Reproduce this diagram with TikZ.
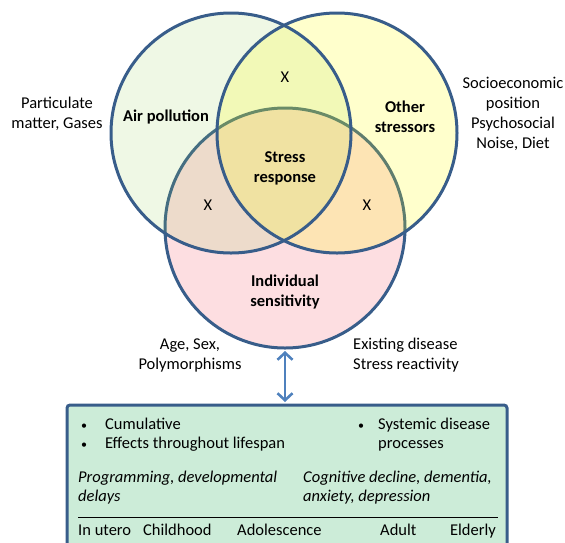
\documentclass[tikz,border=0pt]{standalone}
\usepackage{fontspec}
\setmainfont{Carlito}
\usepackage{xcolor}
\definecolor{Col1}{RGB}{56,93,138}
\definecolor{Col2}{RGB}{146,208,80}
\definecolor{Col3}{RGB}{255,255,0}
\definecolor{Col4}{RGB}{253,222,225}
\definecolor{Col5}{RGB}{79,129,189}
\definecolor{Col6}{RGB}{204,236,216}
\usepackage{tikz}
\usetikzlibrary{arrows.meta}
\tikzstyle{Set}=[draw=Col1,line width=3pt]
\tikzstyle{Label}=[font=\fontsize{16.5}{20}\selectfont,align=center,inner sep=0pt]
\tikzstyle{LabelB}=[Label,font=\fontsize{16.5}{20}\selectfont\bfseries]
\tikzstyle{Row}=[Label,anchor=base west]
\tikzstyle{Dot}=[Label,anchor=base west,font=\fontsize{12}{20}\selectfont]
\tikzstyle{Edge}=[draw=Col5,line width=2.6pt,
{Straight Barb[length=7pt,width=15pt]}-{Straight Barb[length=7pt,width=15pt]}]
\tikzstyle{Box}=[draw=Col1,fill=Col6,line width=3pt,rounded corners=3pt]

\begin{document}
\begin{tikzpicture}[x=1pt,y=-1pt]
        \useasboundingbox (0,0) rectangle (565,542);
        \coordinate(A)at(231,133);
        \coordinate(O)at(337,133);
        \coordinate(I)at(285,228);
        % the three sets
        \fill[Col4](I)circle(120pt);
        \draw[Set](I)circle(120pt);
        \fill[Col2,opacity=.15](A)circle(120pt);
        \fill[Col3,opacity=.2](O)circle(120pt);
        \draw[Set](A)circle(120pt);
        \draw[Set](O)circle(120pt);
        \node[LabelB](ap)at(166,117){Air pollution};
        \node[LabelB](os)at(405,117){Other\\stressors};
        \node[LabelB](sr)at(285,168){Stress\\response};
        \node[LabelB](is)at(285,292){Individual\\sensitivity};
        \node[Label](x1)at(285,77){X};
        \node[Label](x2)at(208,205){X};
        \node[Label](x3)at(367,205){X};
        \node[Label](pm)at(57,114){Particulate\\matter, Gases};
        \node[Label](se)at(513,114){Socioeconomic\\position\\Psychosocial\\Noise, Diet};
        \node[Label](as)at(190,355){Age, Sex,\\Polymorphisms};
        \node[Label,align=left,anchor=west](ed)at(353,355){Existing disease\\Stress reactivity};
        % box and arrow
        \draw[Box](67,405)rectangle(507,575);
        \coordinate(t)at(285,351);
        \coordinate(b)at(285,402);
        \draw[Edge](t)--(b);
        \node[Dot](b1)at(81,429){\textbullet};
        \node[Row](c1)at(105,429){Cumulative};
        \node[Dot](b2)at(81,448){\textbullet};
        \node[Row](c2)at(105,448){Effects throughout lifespan};
        \node[Dot](b3)at(358,429){\textbullet};
        \node[Row](c3)at(378,429){Systemic disease};
        \node[Row](c4)at(378,448){processes};
        \node[Row](p1)at(78,482){\itshape Programming, developmental};
        \node[Row](p2)at(78,501){\itshape delays};
        \node[Row](p3)at(303,482){\itshape Cognitive decline, dementia,};
        \node[Row](p4)at(303,501){\itshape anxiety, depression};
        \coordinate(r1)at(78,517);
        \coordinate(r2)at(498,517);
        \draw[line width=1pt](r1)--(r2);
        \node[Row](a1)at(78,535){In utero};
        \node[Row](a2)at(143,535){Childhood};
        \node[Row](a3)at(237,535){Adolescence};
        \node[Row](a4)at(380,535){Adult};
        \node[Label,anchor=base east](a5)at(496,535){Elderly};
    \end{tikzpicture}
\end{document}
